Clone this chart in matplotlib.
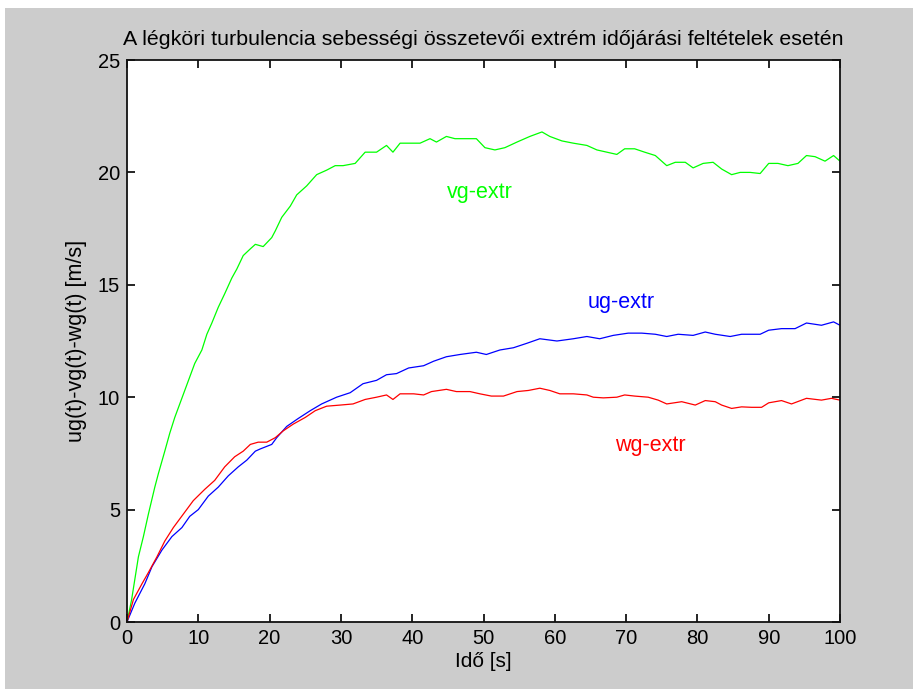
import numpy as np
import matplotlib.pyplot as plt
from matplotlib.patches import Rectangle

# values
t_vg = [0, 0.65, 1.6, 2.3, 3.0, 3.9, 4.4, 5.3, 6.0, 6.7, 7.4, 8.1, 8.8, 9.5, 10.5, 11.2, 11.9,
        12.8, 13.7, 14.7, 15.4, 16.3, 17.3, 18.0, 19.1, 20.3, 20.8, 21.7, 22.9, 23.8, 25.2,
        26.6, 28.0, 29.2, 30.3, 32.0, 33.4, 35.0, 36.4, 37.3, 38.3, 39.7, 41.1, 42.5, 43.4,
        44.8, 46.0, 47.2, 49.0, 50.2, 51.6, 53.0, 54.7, 56.5, 58.2, 59.3, 61.0, 62.6, 64.5,
        65.9, 67.3, 68.7, 69.8, 71.2, 72.6, 74.1, 75.7, 76.9, 78.3, 79.4, 80.8, 82.2, 83.4,
        84.8, 86.0, 87.4, 88.8, 90.0, 91.3, 92.7, 94.1, 95.3, 96.5, 97.9, 99.1, 100]
vg = [0, 1.0, 2.9, 3.8, 4.8, 6.0, 6.6, 7.6, 8.4, 9.1, 9.7, 10.3, 10.9, 11.5, 12.1, 12.8, 13.3,
      14.0, 14.6, 15.3, 15.7, 16.3, 16.6, 16.8, 16.7, 17.1, 17.4, 18.0, 18.5, 19.0, 19.4,
      19.9, 20.1, 20.3, 20.3, 20.4, 20.9, 20.9, 21.2, 20.9, 21.3, 21.3, 21.3, 21.5, 21.35,
      21.6, 21.5, 21.5, 21.5, 21.1, 21.0, 21.1, 21.35, 21.6, 21.8, 21.6, 21.4, 21.3, 21.2,
      21.0, 20.9, 20.8, 21.05, 21.05, 20.9, 20.75, 20.3, 20.45, 20.45, 20.2, 20.4, 20.45, 20.15,
      19.9, 20.0, 20.0, 19.95, 20.4, 20.4, 20.3, 20.4, 20.75, 20.7, 20.5, 20.75, 20.5]

t_ug = [0, 1.1, 2.5, 3.5, 4.9, 6.3, 7.7, 8.8, 10.0, 11.4, 12.8, 14.2, 15.6, 16.8, 18.0, 18.7,
        20.3, 21.0, 22.4, 24.0, 25.7, 27.3, 29.4, 31.3, 33.1, 35.0, 36.4, 37.8, 39.5, 41.6,
        43.0, 44.8, 46.7, 49.0, 50.4, 52.3, 54.2, 56.1, 57.9, 60.3, 62.6, 64.5, 66.3, 68.2,
        70.3, 72.2, 74.1, 75.7, 77.3, 79.4, 81.1, 82.5, 84.6, 86.2, 88.8, 90.0, 91.8, 93.7,
        95.3, 97.4, 99.1, 100]
ug = [0, 0.84, 1.7, 2.46, 3.2, 3.8, 4.2, 4.7, 5.0, 5.6, 6.0, 6.5, 6.9, 7.2, 7.6, 7.7,
      7.9, 8.2, 8.7, 9.05, 9.4, 9.7, 10.0, 10.2, 10.6, 10.75, 11.0, 11.05, 11.3, 11.4,
      11.6, 11.8, 11.9, 12.0, 11.9, 12.1, 12.2, 12.4, 12.6, 12.5, 12.6, 12.7, 12.6, 12.75,
      12.85, 12.85, 12.8, 12.7, 12.8, 12.75, 12.9, 12.8, 12.7, 12.8, 12.8, 12.98, 13.05, 13.05,
      13.3, 13.2, 13.35, 13.2]

t_wg = [0, 0.9, 2.1, 3.0, 4.2, 5.3, 6.5, 7.9, 9.3, 10.9, 12.3, 13.7, 15.1, 16.3, 17.3, 18.4,
        19.6, 20.8, 21.9, 23.3, 25.0, 26.4, 28.0, 29.9, 31.7, 33.4, 35.0, 36.4, 37.3, 38.3,
        40.2, 41.6, 42.7, 44.8, 46.2, 48.1, 49.5, 51.1, 52.8, 54.7, 56.3, 57.9, 59.3, 60.7,
        62.6, 64.5, 65.4, 66.8, 68.7, 69.8, 71.2, 73.1, 74.5, 75.7, 77.8, 79.7, 81.1, 82.5,
        83.4, 84.8, 86.2, 87.6, 89.0, 90.0, 91.8, 93.2, 95.3, 97.4, 98.8, 100]
wg = [0, 1.0, 1.7, 2.2, 2.9, 3.6, 4.2, 4.8, 5.4, 5.9, 6.3, 6.9, 7.35, 7.6, 7.9, 8.0,
      8.0, 8.2, 8.5, 8.8, 9.1, 9.4, 9.6, 9.65, 9.7, 9.9, 10.0, 10.1, 9.9, 10.15,
      10.15, 10.1, 10.25, 10.35, 10.25, 10.25, 10.15, 10.05, 10.05, 10.25, 10.3, 10.4, 10.3, 10.15,
      10.15, 10.1, 10.0, 9.97, 10.0, 10.1, 10.05, 10.0, 9.87, 9.7, 9.8, 9.65, 9.85, 9.8,
      9.65, 9.5, 9.57, 9.55, 9.55, 9.75, 9.85, 9.7, 9.95, 9.87, 9.95, 9.87]

labels = ["ug-extr", "vg-extr", "wg-extr"]
label_pos = [(64.6, 14.2), (44.9, 19.1), (68.4, 7.85)]
colors = ["#0000ff", "#00ff00", "#ff0000"]

plt.rcParams['font.family'] = ['Liberation Sans', 'DejaVu Sans']

fig = plt.figure(figsize=(9.13, 6.89), dpi=100, facecolor="white")
bg = Rectangle((5 / 913, 0), 1, 1 - 8 / 689, transform=fig.transFigure,
               facecolor="#cccccc", edgecolor="none", zorder=-10)
fig.add_artist(bg)
ax = fig.add_axes([127 / 913, 67 / 689, 713 / 913, 562 / 689])
ax.set_zorder(5)

for t, v, c in zip([t_ug, t_vg, t_wg], [ug, vg, wg], colors):
    ax.plot(t, v, color=c, lw=0.9)
for lab, (x, y), c in zip(labels, label_pos, colors):
    ax.text(x, y, lab, color=c, fontsize=15.5, ha="left", va="center")

ax.set_xlim(0, 100)
ax.set_ylim(0, 25)
ax.set_xticks(np.arange(0, 101, 10))
ax.set_yticks(np.arange(0, 26, 5))
ax.tick_params(direction="in", length=6, width=1.2, top=True, right=True,
               labelsize=14.5, pad=5, colors="black")
for s in ax.spines.values():
    s.set_linewidth(1.3)
    s.set_color("#111111")

ax.set_title("A légköri turbulencia sebességi összetevői extrém időjárási feltételek esetén",
             fontsize=15.4, pad=11)
ax.set_xlabel("Idő [s]", fontsize=15, labelpad=3)
ax.set_ylabel("ug(t)-vg(t)-wg(t) [m/s]", fontsize=15.5, labelpad=8)

fig.savefig("out.png", dpi=100, facecolor=fig.get_facecolor())
